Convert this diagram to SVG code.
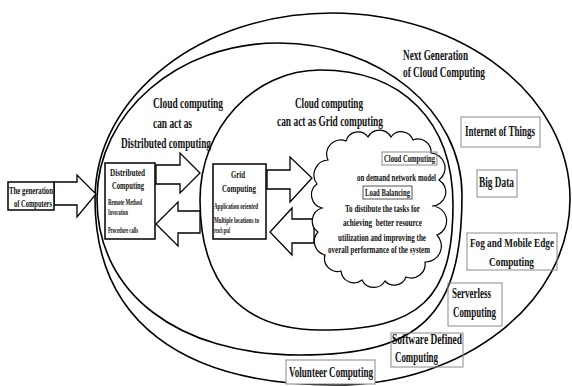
<svg xmlns="http://www.w3.org/2000/svg" width="572" height="386" viewBox="0 0 572 386">
<style>
.t{font-family:"Liberation Serif","Times New Roman",serif;font-weight:bold;fill:#111;white-space:pre}
.f14{font-size:14px}.f13{font-size:13px}.f12{font-size:12px}.f11{font-size:11px}.f10{font-size:10px}.f8{font-size:8px}
.ln{fill:none;stroke:#000;stroke-width:1.6}
.arr{fill:#fff;stroke:#000;stroke-width:1.3}
.bx{fill:#fff;stroke:#000;stroke-width:1.5}
.gb{fill:none;stroke:#8a8a8a;stroke-width:1}
.cl{fill:#fff;stroke:#000;stroke-width:1.2}
</style>
<rect width="572" height="386" fill="#fff"/>
<g id="regions">
<path id="outer" class="ln" d="M95,199 C95,96 201,13 332,13 C463,13 570,96 570,199 C570,302 465,385 335,385 C181,385 95,320 95,199 Z"/>
<path id="middle" class="ln" d="M97,199 C97,113 178,43 278,43 C380,43 462,111 462,195 C462,316 420,355 300,355 C178,355 97,293 97,199 Z"/>
<path id="grid" class="ln" d="M200,200 C200,128 254,70 320,70 C402,70 453,121 453,205 C453,299 420,330 320,330 C242,330 200,284 200,200 Z"/>
</g>
<g id="connectors">
<polygon class="arr" points="54,182 77,182 77,175 96,194 77,217 77,205 54,205"/>
<polygon class="arr" points="156,165 180,165 180,153 200,173 180,193 180,184 156,184"/>
<polygon class="arr" points="200,211 178,211 178,202 156,224 178,246 178,233 200,233"/>
<polygon class="arr" points="267,170 290,170 290,157 312,178 290,202 290,189 267,189"/>
<polygon class="arr" points="314,219 292,219 292,208 270,232 292,255 292,243 314,243"/>
</g>
<g id="generation">
<rect class="bx" x="8" y="182" width="46" height="28"/>
<text class="t f11" x="9" y="194" textLength="44" lengthAdjust="spacingAndGlyphs">The generation</text>
<text class="t f11" x="14" y="207" textLength="38" lengthAdjust="spacingAndGlyphs">of Computers</text>
</g>
<g id="distributed">
<rect class="bx" x="105" y="163" width="50" height="76"/>
<text class="t f11" x="110" y="176" textLength="35" lengthAdjust="spacingAndGlyphs">Distributed</text>
<text class="t f11" x="112" y="189" textLength="32" lengthAdjust="spacingAndGlyphs">Computing</text>
<text class="t f8" x="108" y="205" textLength="34" lengthAdjust="spacingAndGlyphs">Remote Method</text>
<text class="t f8" x="108" y="215" textLength="20" lengthAdjust="spacingAndGlyphs">Invocation</text>
<text class="t f8" x="108" y="233" textLength="30" lengthAdjust="spacingAndGlyphs">Procedure calls</text>
</g>
<g id="gridbox">
<rect class="bx" x="213" y="164" width="53" height="75"/>
<text class="t f11" x="231" y="178" textLength="14" lengthAdjust="spacingAndGlyphs">Grid</text>
<text class="t f11" x="222" y="192" textLength="34" lengthAdjust="spacingAndGlyphs">Computing</text>
<text class="t f8" x="214" y="209" textLength="44" lengthAdjust="spacingAndGlyphs">Application oriented</text>
<text class="t f8" x="214" y="223" textLength="45" lengthAdjust="spacingAndGlyphs">Multiple locations to</text>
<text class="t f8" x="214" y="233" textLength="16" lengthAdjust="spacingAndGlyphs">reach goal</text>
</g>
<g id="labels">
<text class="t f14" x="153" y="108" textLength="70" lengthAdjust="spacingAndGlyphs">Cloud computing</text>
<text class="t f14" x="153" y="128" textLength="39" lengthAdjust="spacingAndGlyphs">can act as</text>
<text class="t f14" x="121" y="148" textLength="90" lengthAdjust="spacingAndGlyphs">Distributed computing</text>
<text class="t f14" x="295" y="108" textLength="68" lengthAdjust="spacingAndGlyphs">Cloud computing</text>
<text class="t f14" x="277" y="126" textLength="106" lengthAdjust="spacingAndGlyphs">can act as Grid computing</text>
<text class="t f14" x="403" y="60" textLength="65" lengthAdjust="spacingAndGlyphs">Next Generation</text>
<text class="t f14" x="403" y="77" textLength="82" lengthAdjust="spacingAndGlyphs">of Cloud Computing</text>
</g>
<g id="cloud">
<path class="cl" d="M328,160 A14,14 0 0 1 346,141 A12.5,12.5 0 0 1 368,137 A13,13 0 0 1 391,137 A12.5,12.5 0 0 1 413,140 A13,13 0 0 1 431,153 A15,15 0 0 1 439,180 A14,14 0 0 1 432,206 A15,15 0 0 1 437,235 A16,16 0 0 1 425,262 A14,14 0 0 1 406,277 A12.5,12.5 0 0 1 385,281 A13,13 0 0 1 362,280 A13,13 0 0 1 341,271 A13,13 0 0 1 325,255 A14,14 0 0 1 318,232 A13.5,13.5 0 0 1 322,208 A13.5,13.5 0 0 1 317,184 A15,15 0 0 1 328,160 Z"/>
<rect class="gb" x="382" y="152" width="55" height="13"/>
<text class="t f10" x="384" y="162" textLength="51" lengthAdjust="spacingAndGlyphs">Cloud Computing</text>
<text class="t f10" x="357" y="181" textLength="79" lengthAdjust="spacingAndGlyphs">on demand network model</text>
<rect class="gb" x="363" y="186" width="49" height="13" style="stroke:#555"/>
<text class="t f10" x="365" y="196" textLength="45" lengthAdjust="spacingAndGlyphs">Load Balancing</text>
<text class="t f11" x="345" y="212" textLength="75" lengthAdjust="spacingAndGlyphs">To distibute the tasks for</text>
<text class="t f11" x="343" y="226" textLength="79" lengthAdjust="spacingAndGlyphs">achieving  better resource</text>
<text class="t f11" x="338" y="241" textLength="88" lengthAdjust="spacingAndGlyphs">utilization and improving the</text>
<text class="t f11" x="328" y="253" textLength="102" lengthAdjust="spacingAndGlyphs">overall performance of the system</text>
</g>
<g id="iot">
<rect class="gb" x="461" y="117" width="79" height="30"/>
<text class="t f14" transform="translate(465,136) scale(0.64,1)" textLength="109.4" lengthAdjust="spacingAndGlyphs">Internet of Things</text>
</g>
<g id="bigdata">
<rect class="gb" x="477" y="170" width="40" height="27"/>
<text class="t f14" x="479" y="187" textLength="35" lengthAdjust="spacingAndGlyphs">Big Data</text>
</g>
<g id="fog">
<rect class="gb" x="467" y="233" width="90" height="37"/>
<text class="t f13" transform="translate(470,247) scale(0.67,1)" textLength="125.4" lengthAdjust="spacingAndGlyphs">Fog and Mobile Edge</text>
<text class="t f13" transform="translate(489,266) scale(0.67,1)" textLength="67.2" lengthAdjust="spacingAndGlyphs">Computing</text>
</g>
<g id="serverless">
<rect class="gb" x="448" y="283" width="54" height="43"/>
<text class="t f14" x="452" y="298" textLength="39" lengthAdjust="spacingAndGlyphs">Serverless</text>
<text class="t f14" x="453" y="317" textLength="43" lengthAdjust="spacingAndGlyphs">Computing</text>
</g>
<g id="sdc">
<rect class="gb" x="391" y="333" width="72" height="34"/>
<text class="t f14" x="392" y="344" textLength="70" lengthAdjust="spacingAndGlyphs">Software Defined</text>
<text class="t f14" x="395" y="362" textLength="43" lengthAdjust="spacingAndGlyphs">Computing</text>
</g>
<g id="volunteer">
<rect class="gb" x="286" y="360" width="89" height="24" style="fill:#fff"/>
<text class="t f14" x="289" y="377" textLength="84" lengthAdjust="spacingAndGlyphs">Volunteer Computing</text>
</g>
</svg>
